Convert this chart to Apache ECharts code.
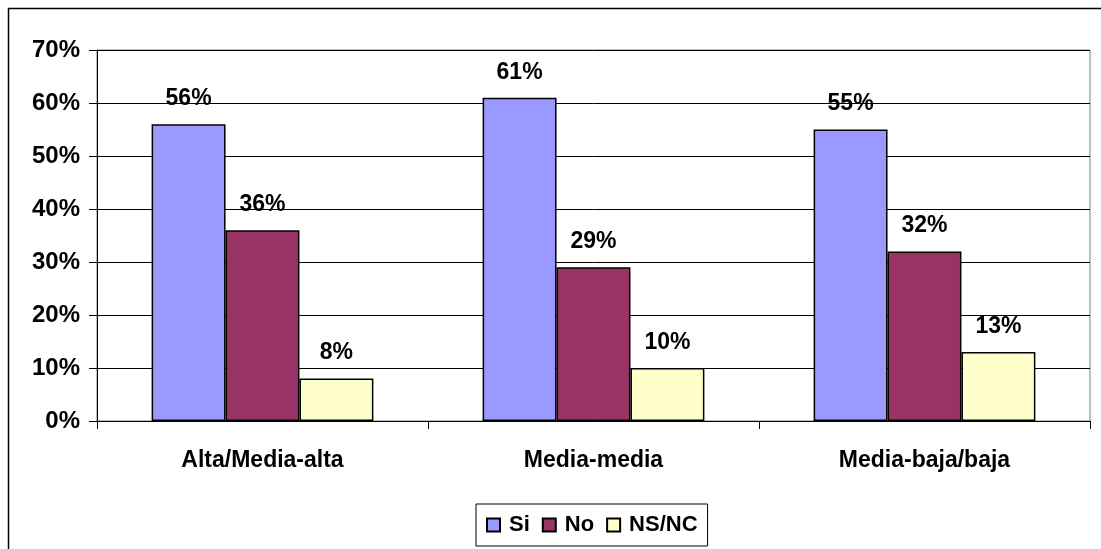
<!DOCTYPE html>
<html><head><meta charset="utf-8">
<script src="https://cdn.jsdelivr.net/npm/echarts@6/dist/echarts.min.js"></script>
<style>html,body{margin:0;padding:0;background:#fff}#c{width:1101px;height:549px}</style>
</head><body><div id="c"></div>
<script>
const categories = ['Alta/Media-alta', 'Media-media', 'Media-baja/baja'];
const si = [56, 61, 55];
const no = [36, 29, 32];
const nsnc = [8, 10, 13];
const yTicks = [0, 10, 20, 30, 40, 50, 60, 70];

const chart = echarts.init(document.getElementById('c'));
const font = 'Arial, "Liberation Sans", sans-serif';
const lbl = {show: true, position: 'top', distance: 14, formatter: p => p.value + '%',
  fontFamily: font, fontWeight: 'bold', fontSize: 23, color: '#000'};
const mk = (name, data, color) => ({
  name, type: 'bar', data, barGap: '0%', barCategoryGap: '33%',
  itemStyle: {color, borderColor: '#000', borderWidth: 1.5},
  label: lbl, emphasis: {disabled: true}
});
chart.setOption({
  animation: false,
  graphic: [{type: 'rect', shape: {x: 8.5, y: 8.5, width: 1200, height: 700},
    style: {fill: 'none', stroke: '#000', lineWidth: 1.5}, silent: true}],
  grid: {left: 97, right: 11, top: 50, bottom: 128, show: true, borderColor: '#808080', borderWidth: 1},
  legend: {bottom: 3, left: 476, itemWidth: 13, itemHeight: 13, itemGap: 12,
    padding: [10, 10, 10, 10], borderColor: '#000', borderWidth: 1,
    textStyle: {fontFamily: font, fontWeight: 'bold', fontSize: 22, color: '#000', padding: [0, 0, 0, 4]},
    data: [{name: 'Si', icon: 'rect'}, {name: 'No', icon: 'rect'}, {name: 'NS/NC', icon: 'rect'}]},
  xAxis: {type: 'category', data: categories,
    axisLine: {lineStyle: {color: '#000', width: 1}},
    axisTick: {show: true, length: 8, lineStyle: {color: '#000'}},
    axisLabel: {fontFamily: font, fontWeight: 'bold', fontSize: 23, color: '#000', margin: 28}},
  yAxis: {type: 'value', min: 0, max: 70, interval: 10,
    axisLine: {show: true, lineStyle: {color: '#000', width: 1}},
    axisTick: {show: true, length: 8, lineStyle: {color: '#000'}},
    splitLine: {lineStyle: {color: '#000', width: 1}},
    axisLabel: {fontFamily: font, fontWeight: 'bold', fontSize: 24, color: '#000', margin: 17,
      formatter: v => yTicks.includes(v) ? v + '%' : ''}},
  series: [mk('Si', si, '#9999FF'), mk('No', no, '#993366'), mk('NS/NC', nsnc, '#FFFFCC')]
});
</script></body></html>
